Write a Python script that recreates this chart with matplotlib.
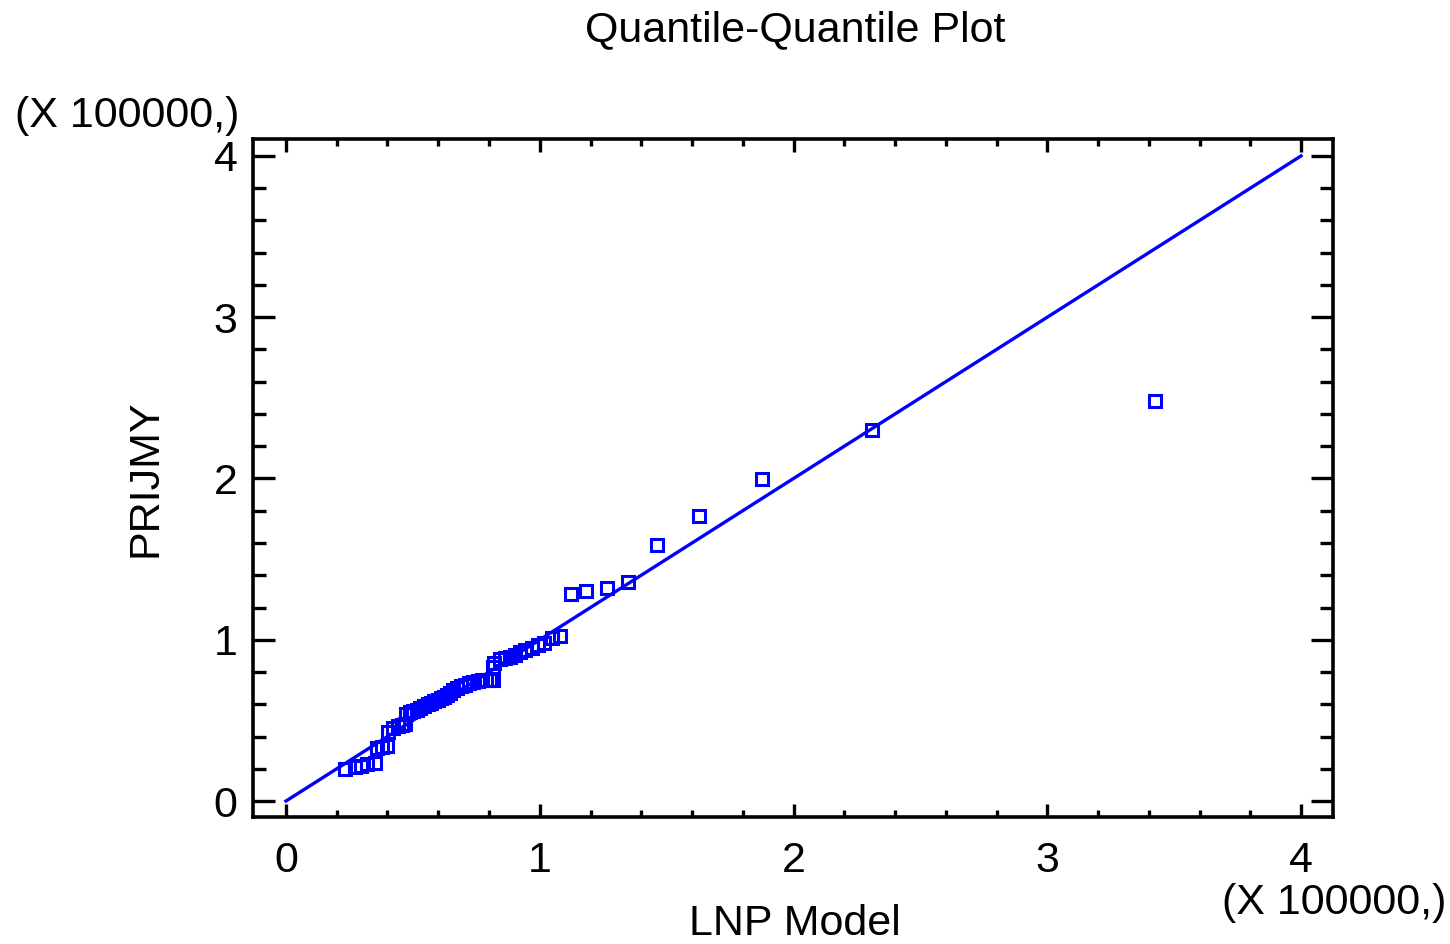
import matplotlib
matplotlib.use("Agg")
import matplotlib.pyplot as plt
from matplotlib.ticker import MultipleLocator

plt.rcParams['font.family'] = ['Liberation Sans', 'DejaVu Sans']

# Data in units of 100000
model_q = [0.233, 0.272, 0.294, 0.318, 0.351, 0.357, 0.377, 0.397, 0.403, 0.423,
           0.442, 0.458, 0.468, 0.472, 0.487, 0.500, 0.515, 0.530, 0.545, 0.558,
           0.572, 0.585, 0.598, 0.610, 0.622, 0.635, 0.648, 0.660, 0.672, 0.688,
           0.705, 0.720, 0.738, 0.755, 0.772, 0.790, 0.805, 0.817, 0.815, 0.820,
           0.843, 0.863, 0.883, 0.902, 0.922, 0.941, 0.968, 0.994, 1.017, 1.047,
           1.080, 1.123, 1.182, 1.265, 1.348, 1.462, 1.628, 1.876, 2.309, 3.425]
prijmy_q = [0.198, 0.213, 0.219, 0.228, 0.233, 0.327, 0.332, 0.341, 0.430, 0.451,
            0.465, 0.472, 0.478, 0.540, 0.552, 0.560, 0.566, 0.578, 0.590, 0.600,
            0.610, 0.618, 0.628, 0.636, 0.645, 0.658, 0.672, 0.690, 0.700, 0.712,
            0.722, 0.730, 0.738, 0.745, 0.748, 0.752, 0.750, 0.750, 0.833, 0.854,
            0.878, 0.884, 0.891, 0.905, 0.922, 0.936, 0.952, 0.967, 0.980, 1.014,
            1.022, 1.284, 1.302, 1.321, 1.358, 1.588, 1.767, 1.997, 2.301, 2.481]
ref_line = [0.0, 4.0]
tick_vals = [0, 1, 2, 3, 4]

fig = plt.figure(figsize=(14.5, 9.44), dpi=100)
ax = fig.add_axes([253/1450, 1-817/944, (1333-253)/1450, (817-139)/944])

ax.plot(ref_line, ref_line, color='#0000ff', lw=2.4, zorder=2)
ax.plot(model_q, prijmy_q, linestyle='none', marker='s', markersize=9.2,
        markerfacecolor='none', markeredgecolor='#0000ff', markeredgewidth=2.2, zorder=3)

ax.set_xlim(-0.13, 4.126)
ax.set_ylim(-0.099, 4.105)
ax.set_xticks(tick_vals)
ax.set_yticks(tick_vals)
ax.set_xticklabels([str(v) for v in tick_vals])
ax.set_yticklabels([str(v) for v in tick_vals])
ax.xaxis.set_minor_locator(MultipleLocator(0.2))
ax.yaxis.set_minor_locator(MultipleLocator(0.2))

for s in ax.spines.values():
    s.set_linewidth(2.6)

ax.tick_params(axis='both', which='both', direction='in', top=True, right=True,
               width=2.4, labelsize=31, colors='black')
ax.tick_params(axis='x', which='major', length=9.5, pad=17)
ax.tick_params(axis='x', which='minor', length=5)
ax.tick_params(axis='y', which='major', length=16, pad=11)
ax.tick_params(axis='y', which='minor', length=9.5)

fig.text(795/1450, 1-30/944, 'Quantile-Quantile Plot', ha='center', va='center', fontsize=31)
fig.text(127/1450, 1-116/944, '(X 100000,)', ha='center', va='center', fontsize=31)
fig.text(1334/1450, 1-903/944, '(X 100000,)', ha='center', va='center', fontsize=31)
fig.text(795/1450, 1-924/944, 'LNP Model', ha='center', va='center', fontsize=31)
fig.text(145/1450, 1-478/944, 'PRIJMY', ha='center', va='center', rotation=90, fontsize=31)

fig.savefig('out.png', dpi=100)
